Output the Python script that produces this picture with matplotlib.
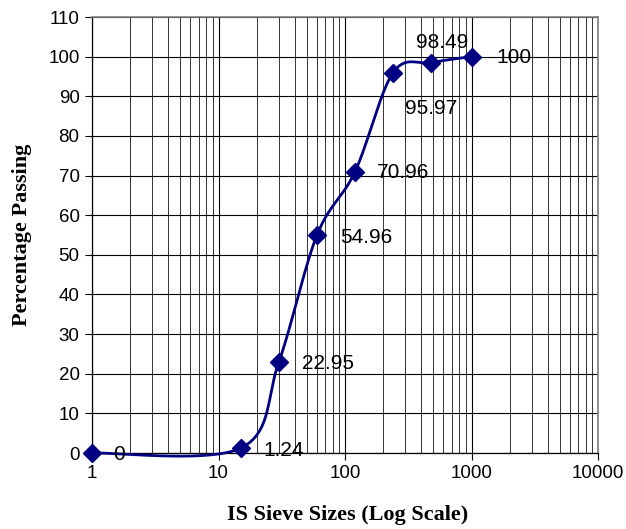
import numpy as np
import matplotlib.pyplot as plt
from matplotlib.ticker import LogLocator, NullFormatter, FixedLocator

# sieve analysis: size vs percentage passing
sieve_sizes = [1, 15, 30, 60, 120, 240, 480, 1000]
passing = [0, 1.24, 22.95, 54.96, 70.96, 95.97, 98.49, 100]
labels = ["0", "1.24", "22.95", "54.96", "70.96", "95.97", "98.49", "100"]
# label offsets in pixels from each marker
label_offsets = [(21, -2), (23, -2), (23, -1), (23, -2), (22, -1),
                 (12, -36), (-15, 20), (25, -1)]
x_ticks = [1, 10, 100, 1000, 10000]
y_ticks = list(range(0, 111, 10))

navy = "#000080"

fig = plt.figure(figsize=(6.26, 5.29), dpi=100)
W, H = 626, 529
ax = fig.add_axes([92 / W, (H - 453) / H, (598 - 92) / W, (453 - 17) / H])
ax.set_xscale("log")
ax.set_xlim(1, 10000)
ax.set_ylim(0, 110)

# grid: every decade subdivision on x, every 10 on y
ax.xaxis.set_major_locator(FixedLocator(x_ticks))
ax.xaxis.set_minor_locator(LogLocator(base=10, subs=np.arange(2, 10)))
ax.xaxis.set_minor_formatter(NullFormatter())
ax.set_xticklabels([str(t) for t in x_ticks])
ax.set_yticks(y_ticks)
ax.grid(True, which="major", color="black", linewidth=0.8)
ax.grid(True, which="minor", axis="x", color="#333333", linewidth=0.7)
ax.tick_params(axis="both", which="major", direction="out", length=5,
               width=0.8, labelsize=13.5, pad=4)
ax.tick_params(axis="x", which="minor", length=0)
for lab in ax.get_xticklabels() + ax.get_yticklabels():
    lab.set_fontfamily("Liberation Sans")
for side in ("top", "right"):
    ax.spines[side].set_color("#808080")
    ax.spines[side].set_linewidth(1.2)
for side in ("left", "bottom"):
    ax.spines[side].set_color("black")
    ax.spines[side].set_linewidth(0.9)
ax.set_axisbelow(True)

# smoothed curve: Catmull-Rom Bezier built in display space
pts = ax.transData.transform(np.column_stack([sieve_sizes, passing]))
ext = np.vstack([pts[0], pts, pts[-1]])
curve = []
t = np.linspace(0, 1, 40)[:, None]
for i in range(1, len(ext) - 2):
    p0, p1, p2, p3 = ext[i - 1], ext[i], ext[i + 1], ext[i + 2]
    c1 = p1 + (p2 - p0) / 6
    c2 = p2 - (p3 - p1) / 6
    seg = ((1 - t) ** 3) * p1 + 3 * ((1 - t) ** 2) * t * c1 \
        + 3 * (1 - t) * t ** 2 * c2 + t ** 3 * p2
    curve.append(seg)
curve = ax.transData.inverted().transform(np.vstack(curve))
ax.plot(curve[:, 0], curve[:, 1], color=navy, linewidth=2, clip_on=False,
        zorder=3)
ax.plot(sieve_sizes, passing, linestyle="none", marker="D", markersize=9.5,
        color=navy, clip_on=False, zorder=4)

for x, y, txt, off in zip(sieve_sizes, passing, labels, label_offsets):
    ax.annotate(txt, (x, y), xytext=off, textcoords="offset pixels",
                ha="left", va="center",
                fontsize=15, fontfamily="Liberation Sans", zorder=5)

fig.text(348 / W, (H - 515) / H, "IS Sieve Sizes (Log Scale)",
         ha="center", va="center", fontsize=16, fontweight="bold",
         fontfamily="Liberation Serif")
fig.text(22 / W, (H - 235) / H, "Percentage Passing", rotation=90,
         ha="center", va="center", fontsize=16, fontweight="bold",
         fontfamily="Liberation Serif")

fig.savefig("out.png", dpi=100, facecolor="white")
